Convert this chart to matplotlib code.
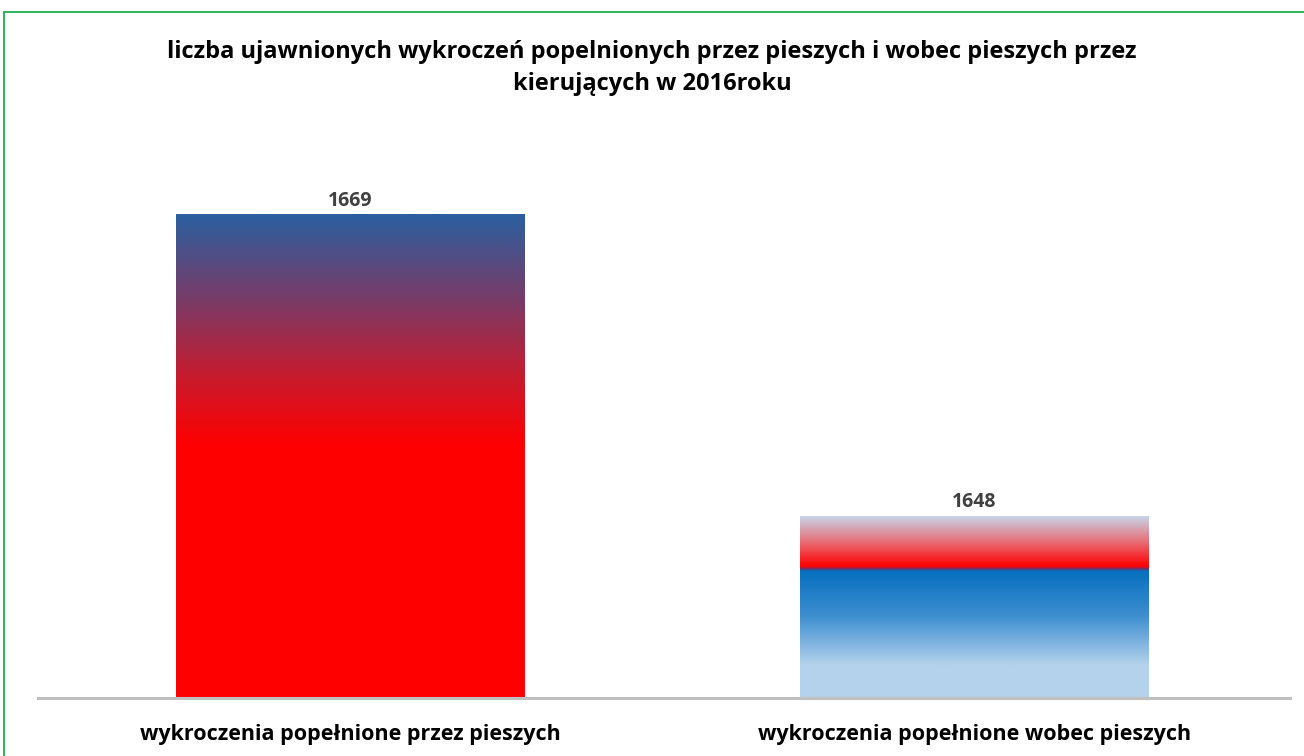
import matplotlib
matplotlib.use("Agg")
import matplotlib.pyplot as plt
import numpy as np
from matplotlib.colors import LinearSegmentedColormap
from matplotlib.patches import Rectangle

plt.rcParams["font.family"] = ["Open Sans", "DejaVu Sans"]

# data
categories = ["wykroczenia popełnione przez pieszych", "wykroczenia popełnione wobec pieszych"]
values = [1669, 1648]
title = "liczba ujawnionych wykroczeń popelnionych przez pieszych i wobec pieszych przez\nkierujących w 2016roku"

# gradient fills (0 = bottom of bar, 1 = top)
grad1 = LinearSegmentedColormap.from_list("g1", [
    (0.0, "#ff0000"), (0.52, "#ff0000"), (0.66, "#c91a2c"),
    (0.82, "#7a3b66"), (1.0, "#2b5f9f")])
grad2 = LinearSegmentedColormap.from_list("g2", [
    (0.0, "#b4d2eb"), (0.18, "#b4d2eb"), (0.45, "#3d8ecf"),
    (0.695, "#0770c0"), (0.705, "#5a3a78"), (0.72, "#ff0000"),
    (0.85, "#e86a72"), (1.0, "#c6d8ec")])
fills = [grad1, grad2]

fig = plt.figure(figsize=(13.04, 7.56), dpi=100)
W, H = 1304, 756
ax = fig.add_axes([38 / W, 1 - 698 / H, (1290 - 38) / W, 570 / H])

x = np.arange(len(categories))
bars = ax.bar(x, values, width=0.558, color="none", zorder=2)
ax.set_xlim(-0.5, 1.506)
ax.set_ylim(1635.3, 1675)

for bar, cmap, v in zip(bars, fills, values):
    x0, w = bar.get_x(), bar.get_width()
    y0, y1 = ax.get_ylim()[0], bar.get_height()
    grad = np.linspace(1, 0, 256).reshape(-1, 1)
    im = ax.imshow(grad, cmap=cmap, vmin=0, vmax=1, aspect="auto",
                   extent=[x0, x0 + w, y0, y1], zorder=1, interpolation="bilinear")
    im.set_clip_path(bar)
    ax.text(x0 + w / 2, y1 + 0.22, str(v), ha="center", va="bottom",
            fontsize=14, fontweight="bold", color="#404040")

for s in ["top", "right", "left"]:
    ax.spines[s].set_visible(False)
ax.spines["bottom"].set_color("#bfbfbf")
ax.spines["bottom"].set_linewidth(2.2)
ax.set_yticks([])
ax.set_xticks(x)
ax.set_xticklabels(categories, fontsize=15.5, fontweight="bold", color="#000000")
ax.tick_params(axis="x", length=0, pad=19)

fig.text(0.5, 1 - 68 / H, title, ha="center", va="center", fontsize=17,
         fontweight="bold", linespacing=1.5)

fig.patches.append(Rectangle((3.5 / W, -0.1), 1.2, 1 - 11.5 / H + 0.1, transform=fig.transFigure,
                             fill=False, edgecolor="#1fae50", linewidth=1.3))

fig.savefig("out.png", dpi=100)
